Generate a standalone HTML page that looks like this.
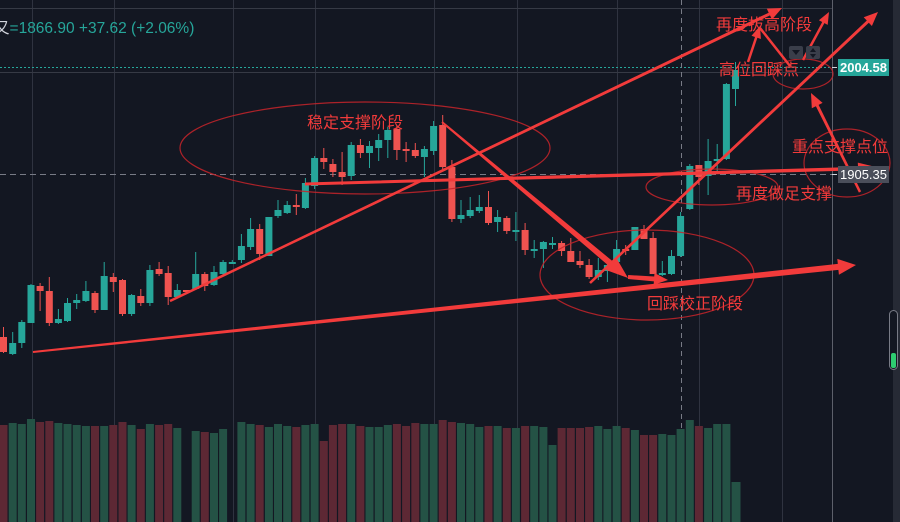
<!DOCTYPE html>
<html><head><meta charset="utf-8">
<style>
html,body{margin:0;padding:0;background:#131722;}
body{width:900px;height:522px;overflow:hidden;position:relative;}
svg{position:absolute;left:0;top:0;}
</style></head>
<body>
<svg id="s" width="900" height="522" xmlns="http://www.w3.org/2000/svg"></svg>
<script>
const s=document.getElementById('s');
let h='';
h+='<rect x="0" y="0" width="900" height="522" fill="#131722"/>';
h+='<rect x="893" y="0" width="7" height="522" fill="#262a35"/>';
[32,114,233,315,434,517,617,699,782].forEach(x=>{h+=`<line x1="${x+.5}" y1="0" x2="${x+.5}" y2="522" stroke="#2f3340" stroke-width="1"/>`;});
h+='<line x1="832.5" y1="0" x2="832.5" y2="522" stroke="#5d606b" stroke-width="1"/>';
h+='<line x1="0" y1="8.5" x2="832" y2="8.5" stroke="#363a45"/>';
h+='<line x1="0" y1="72.5" x2="832" y2="72.5" stroke="#363a45"/>';
h+='<line x1="0" y1="67.5" x2="832" y2="67.5" stroke="#26a69a" stroke-dasharray="2,2"/>';
h+='<line x1="0" y1="174.5" x2="832" y2="174.5" stroke="#787b86" stroke-dasharray="6,4"/>';
h+='<line x1="681.5" y1="0" x2="681.5" y2="522" stroke="#787b86" stroke-dasharray="5,4"/>';
const vt=[425,423,424,419,422,421,423,424,425,426,426,426,425,422,425,429,424,425,424,428,null,431,432,433,429,null,
422,424,425,427,424,426,427,425,424,441,425,424,424,426,427,427,425,424,426,423,424,424,420,
422,423,424,427,426,426,428,428,426,426,427,445,428,428,428,427,426,429,426,428,430,435,435,434,435,429,420,426,428,424,424,482];
const vc="rgggrrggggrgrrgrgrrg_grgg_ggrgggrggrrrgrgggrrrggr"+"rgggrgrgrgggrrrrgggrgrrggggrgggg";
const P=9.15,X0=3.5;
for(let i=0;i<81;i++){if(vt[i]==null)continue;const cx=X0+P*i;const c=vc[i]=='r'?'#5d2834':'#245245';
 h+=`<rect x="${(cx-4).toFixed(1)}" y="${vt[i]}" width="${i==80?9:8}" height="${522-vt[i]}" fill="${c}"/>`;}
const C=`r 337 352 327 353
g 343 354 332 355
g 322 343 320 348
g 285 323 284 323
r 286 291 283 311
r 291 323 277 326
g 319 323 309 324
g 303 321 298 322
g 300 303 294 309
g 291 301 281 302
r 293 310 291 313
g 276 310 262 310
r 277 282 273 292
r 280 314 279 316
g 295 314 294 316
r 296 303 289 306
g 270 303 265 306
r 269 274 262 276
r 273 297 266 305
g 290 297 284 298
r 290 292 290 292
g 274 289 252 290
r 274 286 272 291
g 272 285 266 286
g 262 274 260 275
g 262 264 260 264
g 246 260 234 263
g 229 247 218 250
r 229 254 224 260
g 217 256 217 256
g 210 216 200 218
g 205 213 201 214
r 205 207 194 215
g 183 208 178 209
g 158 186 156 189
r 158 162 148 169
r 164 172 159 177
r 172 177 152 185
g 145 176 142 180
r 145 153 139 158
g 146 153 141 168
g 140 148 134 161
g 130 140 127 158
r 129 150 126 160
r 149 150 142 162
r 150 156 143 158
g 149 157 146 177
g 126 151 121 155
r 125 167 115 170
r 167 219 160 222
g 215 219 200 223
g 210 216 197 218
g 207 211 195 213
r 207 223 191 225
g 217 222 210 232
r 218 231 216 234
g 230 231 212 241
r 230 250 223 255
g 249 250 240 258
g 242 249 241 268
g 243 244 237 249
r 243 251 241 256
r 251 262 238 262
r 261 265 251 268
r 265 277 259 279
g 270 277 258 280
g 265 271 263 282
g 249 262 240 262
r 249 250 245 255
g 227 250 227 250
r 229 239 225 239
r 238 274 232 274
g 273 275 261 276
g 256 274 250 275
g 216 256 212 257
g 166 209 164 210
r 165 177 165 185
g 161 176 139 195
g 159 161 144 171
g 84 159 83 160
g 70 89 62 106`.split('\n');
C.forEach((l,i)=>{const a=l.split(' ');const col=a[0]=='r'?'#ef5350':'#26a69a';const t=+a[1],b=+a[2],wt=+a[3],wb=+a[4];const cx=X0+P*i;
 h+=`<line x1="${cx.toFixed(1)}" y1="${wt}" x2="${cx.toFixed(1)}" y2="${wb}" stroke="${col}" stroke-width="1"/>`;
 h+=`<rect x="${(cx-3.5).toFixed(1)}" y="${t}" width="7" height="${Math.max(2,b-t)}" fill="${col}"/>`;});
const R='#f23b3b';
function arrow(x1,y1,x2,y2,w1,w2,hl,hw){const dx=x2-x1,dy=y2-y1,L=Math.hypot(dx,dy),ux=dx/L,uy=dy/L,nx=-uy,ny=ux;
 const bx=x2-ux*hl,by=y2-uy*hl;
 const p=[[x1+nx*w1/2,y1+ny*w1/2],[bx+nx*w2/2,by+ny*w2/2],[bx+nx*hw/2,by+ny*hw/2],[x2,y2],[bx-nx*hw/2,by-ny*hw/2],[bx-nx*w2/2,by-ny*w2/2],[x1-nx*w1/2,y1-ny*w1/2]];
 h+=`<polygon points="${p.map(q=>q[0].toFixed(1)+','+q[1].toFixed(1)).join(' ')}" fill="${R}"/>`;}
function ell(cx,cy,rx,ry){h+=`<ellipse cx="${cx}" cy="${cy}" rx="${rx}" ry="${ry}" fill="none" stroke="#c8242a" stroke-width="1.2" opacity="0.85"/>`;}
ell(365,148,185,46);ell(647,275,107,45);ell(712,187,66,18);ell(803,74,30,15);ell(847,163,43,34);
arrow(33,352,856,265,2,6,18,16);
arrow(442,122,628,278,2,6,22,16);
arrow(170,301,782,8,2.5,3,14,12);
arrow(590,283,878,12,2.5,3,14,12);
arrow(305,184,880,168,3,3.5,22,12);
arrow(628,277,668,280,4,5,14,12);
arrow(748,62,760,26,2.5,2.5,12,10);
h+=`<line x1="790" y1="66" x2="760" y2="28" stroke="${R}" stroke-width="2.5"/>`;
arrow(803,60,829,12,2.5,2.5,12,10);
arrow(860,192,811,93,2.5,3,14,12);
const tf='font-family="Liberation Sans, Noto Sans CJK SC, sans-serif" font-size="16" fill="'+R+'"';
h+=`<text x="307" y="128" ${tf}>稳定支撑阶段</text>`;
h+=`<text x="647" y="309" ${tf}>回踩校正阶段</text>`;
h+=`<text x="736" y="199" ${tf}>再度做足支撑</text>`;
h+=`<text x="792" y="152" ${tf}>重点支撑点位</text>`;
h+=`<text x="719" y="75" ${tf}>高位回踩点</text>`;
h+=`<text x="716" y="30" ${tf}>再度拔高阶段</text>`;
h+=`<text x="-6" y="33" font-family="Liberation Sans, Noto Sans CJK SC, sans-serif" font-size="15.5" fill="#26a69a"><tspan fill="#d1d4dc">又</tspan>=1866.90  +37.62 (+2.06%)</text>`;
h+='<rect x="789" y="46" width="14" height="13" rx="2" fill="#3a3e4a"/><polygon points="792,50 800,50 796,55" fill="#131722"/>';
h+='<rect x="806" y="46" width="14" height="13" rx="2" fill="#3a3e4a"/><polygon points="810,52 816,52 813,48" fill="#131722"/><polygon points="810,54 816,54 813,58" fill="#131722"/>';
h+='<line x1="832" y1="67.5" x2="837" y2="67.5" stroke="#d1d4dc"/>';
h+='<rect x="838" y="59" width="51" height="17" fill="#26a69a"/>';
h+='<text x="863.5" y="72" text-anchor="middle" font-family="Liberation Sans, sans-serif" font-size="13" font-weight="bold" fill="#ffffff">2004.58</text>';
h+='<line x1="832" y1="174.5" x2="837" y2="174.5" stroke="#d1d4dc"/>';
h+='<rect x="838" y="166" width="51" height="17" fill="#4a4e5a"/>';
h+='<text x="863.5" y="179" text-anchor="middle" font-family="Liberation Sans, sans-serif" font-size="13" fill="#ffffff">1905.35</text>';
h+='<rect x="889.5" y="310.5" width="8" height="59" rx="4" fill="#131722" stroke="#787b86"/>';
h+='<rect x="891" y="353" width="5" height="15" rx="2" fill="#2ecc71"/>';
s.innerHTML=h;
</script>
</body></html>
